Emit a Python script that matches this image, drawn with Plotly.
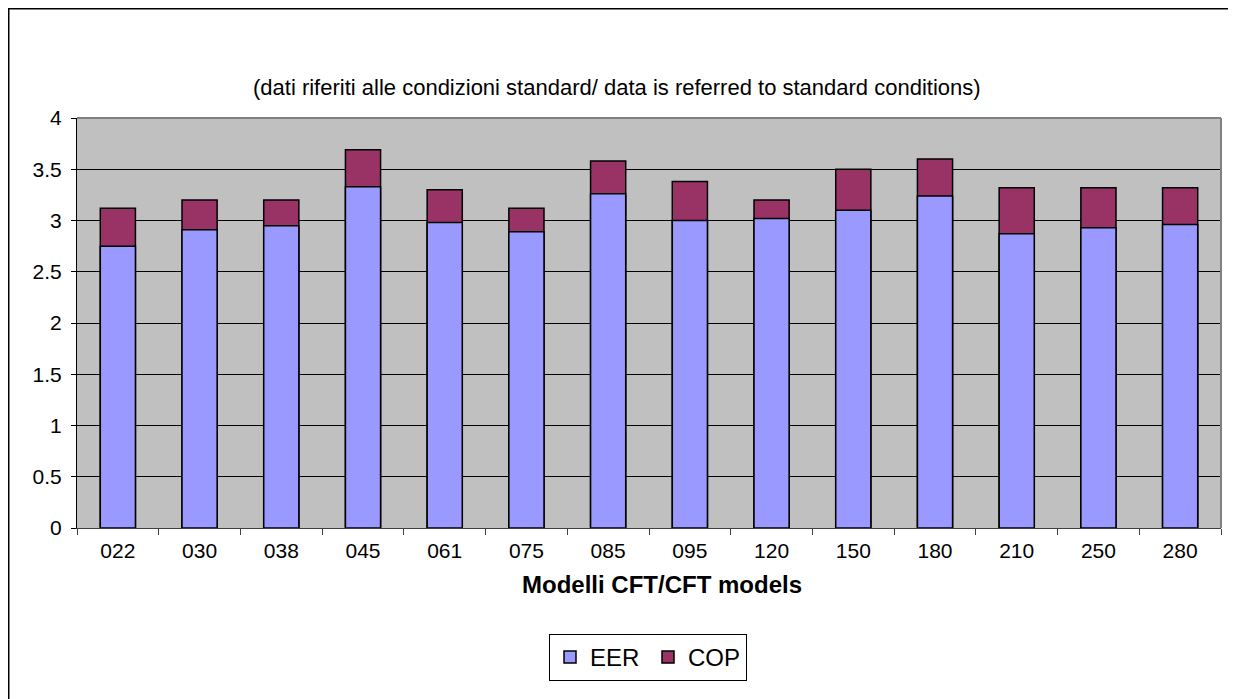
import plotly.graph_objects as go

models = ["022", "030", "038", "045", "061", "075", "085", "095", "120", "150", "180", "210", "250", "280"]
eer = [2.75, 2.91, 2.95, 3.33, 2.98, 2.89, 3.26, 3.00, 3.02, 3.10, 3.24, 2.87, 2.93, 2.96]
cop = [3.12, 3.20, 3.20, 3.69, 3.30, 3.12, 3.58, 3.38, 3.20, 3.50, 3.60, 3.32, 3.32, 3.32]
y_ticks = [0, 0.5, 1, 1.5, 2, 2.5, 3, 3.5, 4]
y_tick_labels = ["0", "0.5", "1", "1.5", "2", "2.5", "3", "3.5", "4"]

OFF = 8  # page body margin of the browser
W, H = 1236 - OFF, 699 - OFF
# plot area in screen pixels
SL, SR, ST, SB = 77, 1221, 118, 528
L, R, T, B = SL - OFF, SR - OFF, ST - OFF, SB - OFF


def px_x(p):
    return (p - SL) / (SR - SL)


def px_y(p):
    return (SB - p) / (SB - ST)


FONT = "Arial, Liberation Sans, sans-serif"

fig = go.Figure()
fig.add_trace(go.Bar(
    x=models, y=cop, name="COP", width=0.43,
    marker=dict(color="#993366", line=dict(color="black", width=1.5)),
    legendrank=2,
))
fig.add_trace(go.Bar(
    x=models, y=eer, name="EER", width=0.43,
    marker=dict(color="#9999FF", line=dict(color="black", width=1.5)),
    legendrank=1,
))

fig.update_layout(
    width=W, height=H,
    margin=dict(l=L, r=W - R, t=T, b=H - B),
    barmode="overlay",
    paper_bgcolor="white",
    plot_bgcolor="#C0C0C0",
    font=dict(family=FONT, color="black", size=21),
    showlegend=True,
    legend=dict(
        orientation="h", x=px_x(648), xanchor="center", y=px_y(634), yanchor="top",
        bordercolor="black", borderwidth=1, font=dict(size=24, family=FONT),
        bgcolor="white", traceorder="normal", itemwidth=30,
        entrywidth=53, entrywidthmode="pixels",
    ),
    xaxis=dict(
        type="category", showgrid=False, showline=True, linecolor="#404040", linewidth=1,
        ticks="outside", tickson="boundaries", ticklen=6, tickcolor="#404040",
        tickfont=dict(size=21, family=FONT), zeroline=False, ticklabelstandoff=4,
    ),
    yaxis=dict(
        range=[0, 4], tickvals=y_ticks, ticktext=y_tick_labels,
        showgrid=True, gridcolor="black", gridwidth=1,
        showline=True, linecolor="black", linewidth=1,
        ticks="outside", ticklen=5, tickcolor="black",
        tickfont=dict(size=21, family=FONT), zeroline=False, ticklabelstandoff=5,
    ),
    shapes=[
        dict(type="line", xref="paper", yref="paper", x0=0, x1=1, y0=1, y1=1,
             line=dict(color="#808080", width=2)),
        dict(type="line", xref="paper", yref="paper", x0=1, x1=1, y0=0, y1=1,
             line=dict(color="#808080", width=2)),
        dict(type="rect", xref="paper", yref="paper",
             x0=px_x(8.75), x1=px_x(1300), y0=px_y(760), y1=px_y(8.75),
             line=dict(color="black", width=1.5), fillcolor="rgba(0,0,0,0)"),
    ],
    annotations=[
        dict(text="(dati riferiti alle condizioni standard/ data is referred to standard conditions)",
             xref="paper", yref="paper", x=px_x(616.5), y=px_y(88), showarrow=False,
             xanchor="center", yanchor="middle", font=dict(size=22, family=FONT)),
        dict(text="<b>Modelli CFT/CFT models</b>",
             xref="paper", yref="paper", x=px_x(662), y=px_y(584), showarrow=False,
             xanchor="center", yanchor="middle", font=dict(size=24, family=FONT)),
    ],
)

fig.write_html("out.html")
